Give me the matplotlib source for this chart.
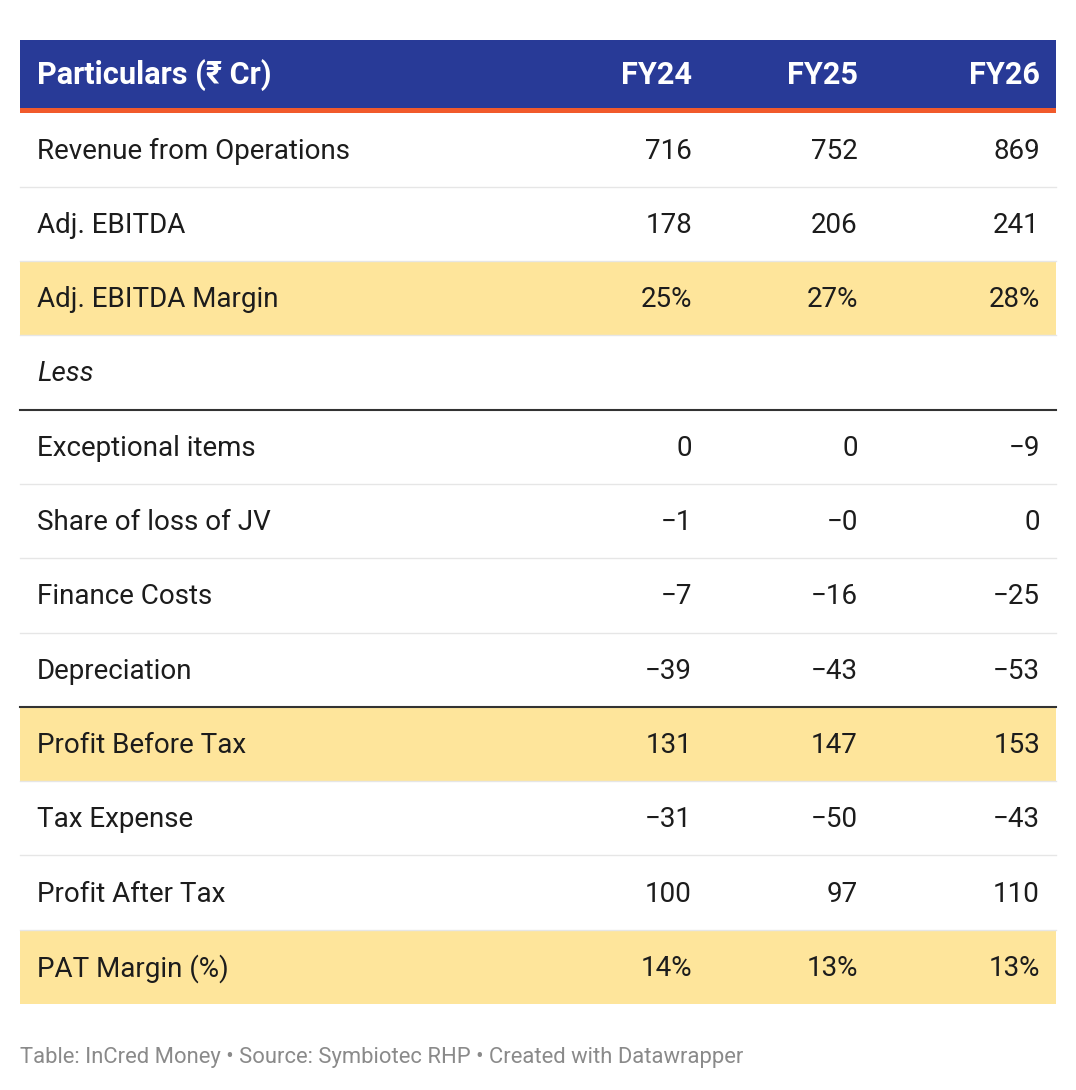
import matplotlib
matplotlib.use("Agg")
import matplotlib.pyplot as plt
from matplotlib.patches import Rectangle

plt.rcParams['font.family'] = ['Roboto', 'DejaVu Sans']

COLUMNS = ["FY24", "FY25", "FY26"]
PARTICULARS = [
    "Revenue from Operations", "Adj. EBITDA", "Adj. EBITDA Margin", "Less",
    "Exceptional items", "Share of loss of JV", "Finance Costs", "Depreciation",
    "Profit Before Tax", "Tax Expense", "Profit After Tax", "PAT Margin (%)",
]
FY24 = ["716", "178", "25%", "", "0", "\u22121", "\u22127", "\u221239", "131", "\u221231", "100", "14%"]
FY25 = ["752", "206", "27%", "", "0", "\u22120", "\u221216", "\u221243", "147", "\u221250", "97", "13%"]
FY26 = ["869", "241", "28%", "", "\u22129", "0", "\u221225", "\u221253", "153", "\u221243", "110", "13%"]
HIGHLIGHT = {2, 8, 11}
ITALIC = {3}
DARK_LINE_BELOW = {3, 7}

W, H = 1076, 1090
fig = plt.figure(figsize=(W / 100, H / 100), dpi=100)
ax = fig.add_axes([0, 0, 1, 1])
ax.set_xlim(0, W)
ax.set_ylim(H, 0)
ax.axis('off')

left, right = 20, 1056
col_x = [692, 858, 1040]
fs = 20
hfs = 22.1

# header
ax.add_patch(Rectangle((left, 40), right - left, 68, color='#283a97', lw=0))
ax.add_patch(Rectangle((left, 107.5), right - left, 5, color='#f15a2b', lw=0))
ax.text(37, 75, "Particulars (\u20b9 Cr)", color='white', fontsize=hfs, fontweight='bold',
        va='center', ha='left')
for x, c in zip(col_x, COLUMNS):
    ax.text(x, 75, c, color='white', fontsize=hfs, fontweight='bold', va='center', ha='right')

top = 112.5
row_h = 74.3
for i, name in enumerate(PARTICULARS):
    y0 = top + i * row_h
    if i in HIGHLIGHT:
        ax.add_patch(Rectangle((left, y0), right - left, row_h, color='#fee59b', lw=0))
    yc = y0 + row_h / 2 + 1.5
    ax.text(37, yc, name, fontsize=fs, color='#1c1c1c', va='center', ha='left',
            style='italic' if i in ITALIC else 'normal')
    for x, vals in zip(col_x, (FY24, FY25, FY26)):
        ax.text(x, yc, vals[i], fontsize=fs, color='#1c1c1c', va='center', ha='right')
    if i < len(PARTICULARS) - 1:
        yb = y0 + row_h
        if i in DARK_LINE_BELOW:
            ax.plot([left, right], [yb, yb], color='#333333', lw=1.5)
        else:
            ax.plot([left, right], [yb, yb], color='#e6e6e6', lw=1.0)

ax.text(20, 1057, "Table: InCred Money \u2022 Source: Symbiotec RHP \u2022 Created with Datawrapper",
        fontsize=15.8, color='#8a8a8a', va='center', ha='left')

fig.savefig("out.png", dpi=100)
